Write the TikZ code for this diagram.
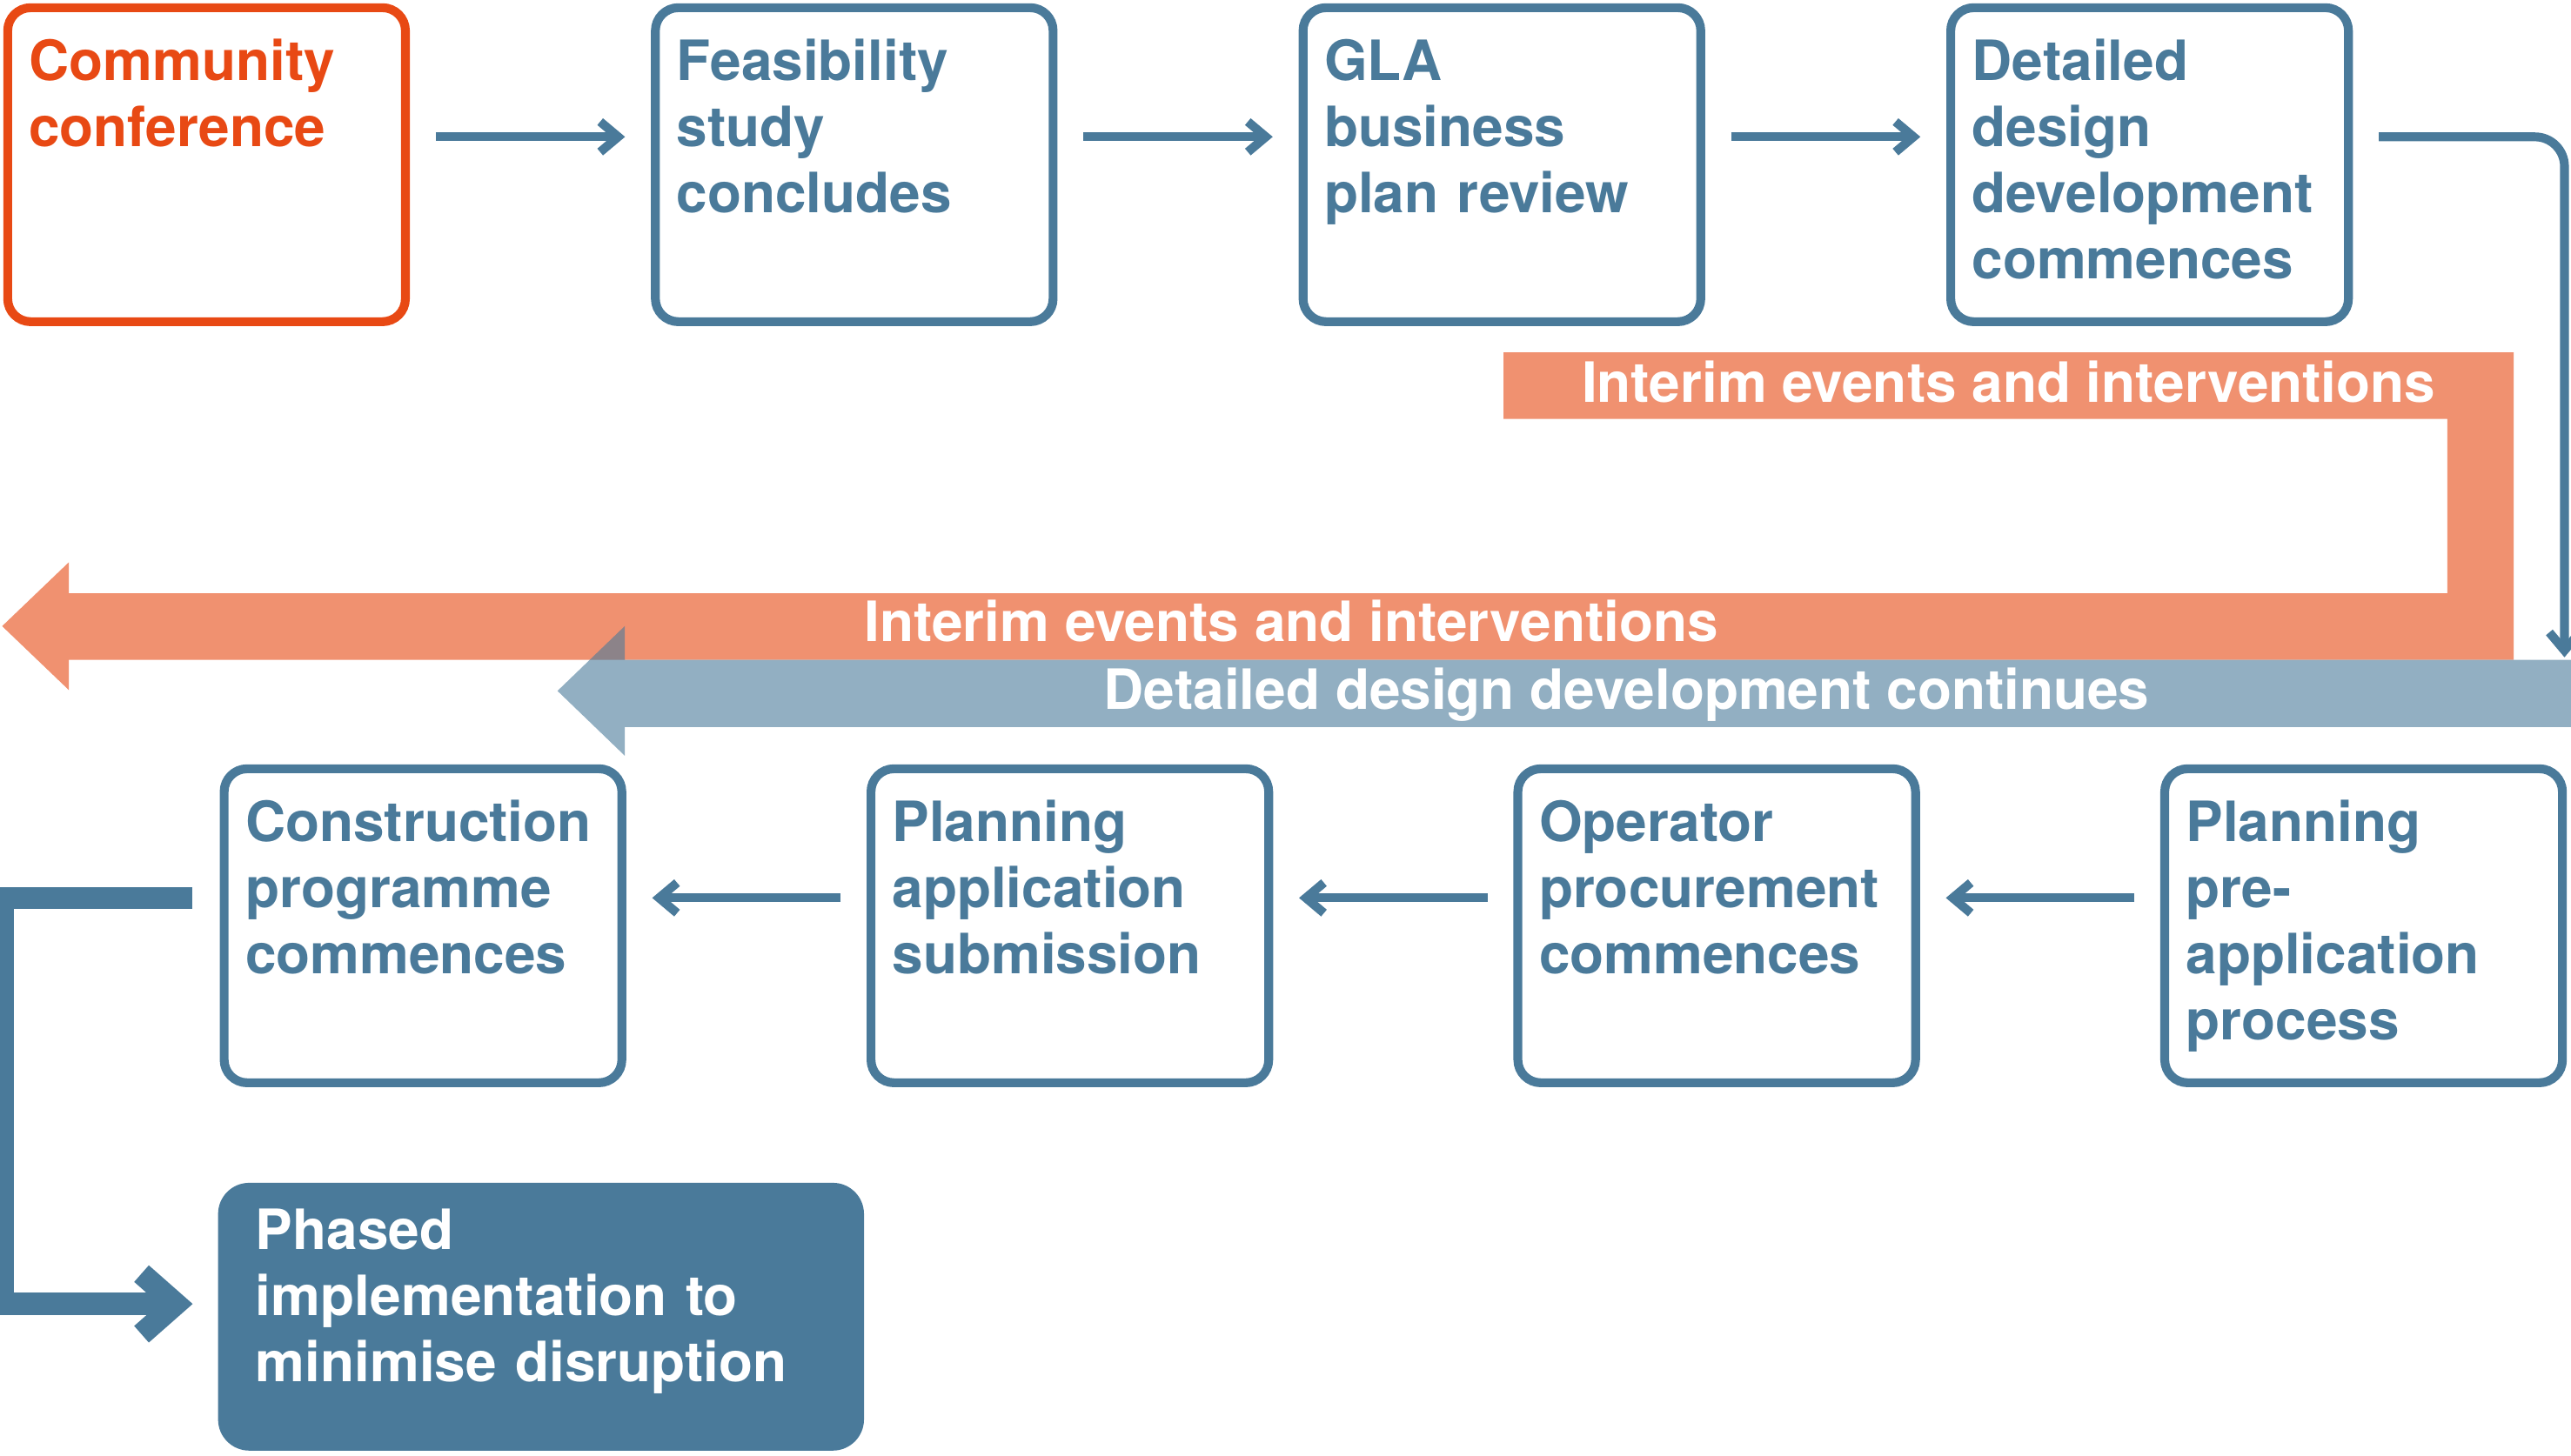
\documentclass[tikz,border=0pt]{standalone}
\usepackage{fontspec}
\setmainfont{TeX Gyre Heros}
\usetikzlibrary{arrows.meta}
\definecolor{gblue}{RGB}{74,122,154}
\definecolor{gorange}{RGB}{232,73,20}
\definecolor{bandorange}{RGB}{240,145,112}

\begin{document}
\begin{tikzpicture}[x=0.02cm, y=-0.02cm,
    boxfont/.style={font=\bfseries\fontsize{19.3pt}{23pt}\selectfont},
    stagebox/.style={boxfont, draw=gblue, text=gblue, line width=3.07pt,
      rounded corners=0.28cm, anchor=north west, outer sep=0pt,
      inner xsep=0.26cm, inner ysep=0pt, align=left,
      text width=4.332cm, text height=0.886cm, text depth=2.946cm},
    phasebox/.style={boxfont, fill=gblue, text=white, rounded corners=0.38cm,
      anchor=north west, outer sep=0pt, inner xsep=0.46cm, inner ysep=0pt,
      align=left, text width=6.96cm, text height=0.808cm, text depth=2.46cm},
    bandtext/.style={boxfont, text=white, anchor=base, inner sep=0pt},
    flowarrow/.style={gblue, line width=3.07pt,
      -{Straight Barb[length=0.22cm, width=0.37cm]},
      shorten <=0.37cm, shorten >=0.37cm},
    bigarrow/.style={gblue, line width=0.27cm,
      -{Straight Barb[length=0.42cm, width=0.74cm]},
      shorten <=0.39cm, shorten >=0.31cm}]
  \useasboundingbox (0,0) rectangle (1568,888);

  % Orange band: top strip, drop and long arrow to the left
  \fill[bandorange] (917,215) -- (1533,215) -- (1533,402.6) -- (42,402.6)
    -- (42,421) -- (1.3,382) -- (42,343) -- (42,362) -- (1492.5,362)
    -- (1492.5,255.6) -- (917,255.6) -- cycle;
  % Blue band, see-through where it meets the orange head
  \fill[gblue, opacity=0.6] (1580,402.6) -- (381,402.6) -- (381,382)
    -- (340,421.5) -- (381,461) -- (381,443.5) -- (1580,443.5) -- cycle;
  % Band labels
  \node[bandtext] (interimtop) at (1225,245.6) {Interim events and interventions};
  \node[bandtext] (interimlow) at (787.5,391.6) {Interim events and interventions};
  \node[bandtext] (designcont) at (992,432.5) {Detailed design development continues};

  % Top row
  \node[stagebox, draw=gorange, text=gorange] (comm) at (4.7,4.7) {Community\\conference};
  \node[stagebox] (feas) at (399.7,4.7) {Feasibility\\study\\concludes};
  \node[stagebox] (gla) at (794.7,4.7) {GLA\\business\\plan review};
  \node[stagebox] (detail) at (1189.7,4.7) {Detailed\\design\\development\\commences};

  % Bottom row
  \node[stagebox] (constr) at (136.7,469) {Construction\\programme\\commences};
  \node[stagebox] (planapp) at (531.2,469) {Planning\\application\\submission};
  \node[stagebox] (operator) at (925.7,469) {Operator\\procurement\\commences};
  \node[stagebox] (preapp) at (1320.2,469) {Planning\\pre-\\application\\process};

  % Last step
  \node[phasebox] (phased) at (133,721.6) {Phased\\implementation to\\minimise disruption};

  % Arrows, top row
  \draw[flowarrow] ([yshift=0.34cm]comm.east) -- ([yshift=0.34cm]feas.west);
  \draw[flowarrow] ([yshift=0.34cm]feas.east) -- ([yshift=0.34cm]gla.west);
  \draw[flowarrow] ([yshift=0.34cm]gla.east) -- ([yshift=0.34cm]detail.west);
  % Down the right edge onto the blue band
  \coordinate (bandhit) at (1564,401);
  \draw[flowarrow, rounded corners=0.36cm, shorten >=0pt]
    ([yshift=0.34cm]detail.east) -| (bandhit);
  % Arrows, bottom row
  \draw[flowarrow] ([yshift=0.34cm]preapp.west) -- ([yshift=0.34cm]operator.east);
  \draw[flowarrow] ([yshift=0.34cm]operator.west) -- ([yshift=0.34cm]planapp.east);
  \draw[flowarrow] ([yshift=0.34cm]planapp.west) -- ([yshift=0.34cm]constr.east);
  % Thick link down to the last step
  \draw[bigarrow] ([yshift=0.34cm]constr.west) -- ++(-134.9,0)
    |- ([yshift=0.156cm]phased.west);
\end{tikzpicture}
\end{document}
